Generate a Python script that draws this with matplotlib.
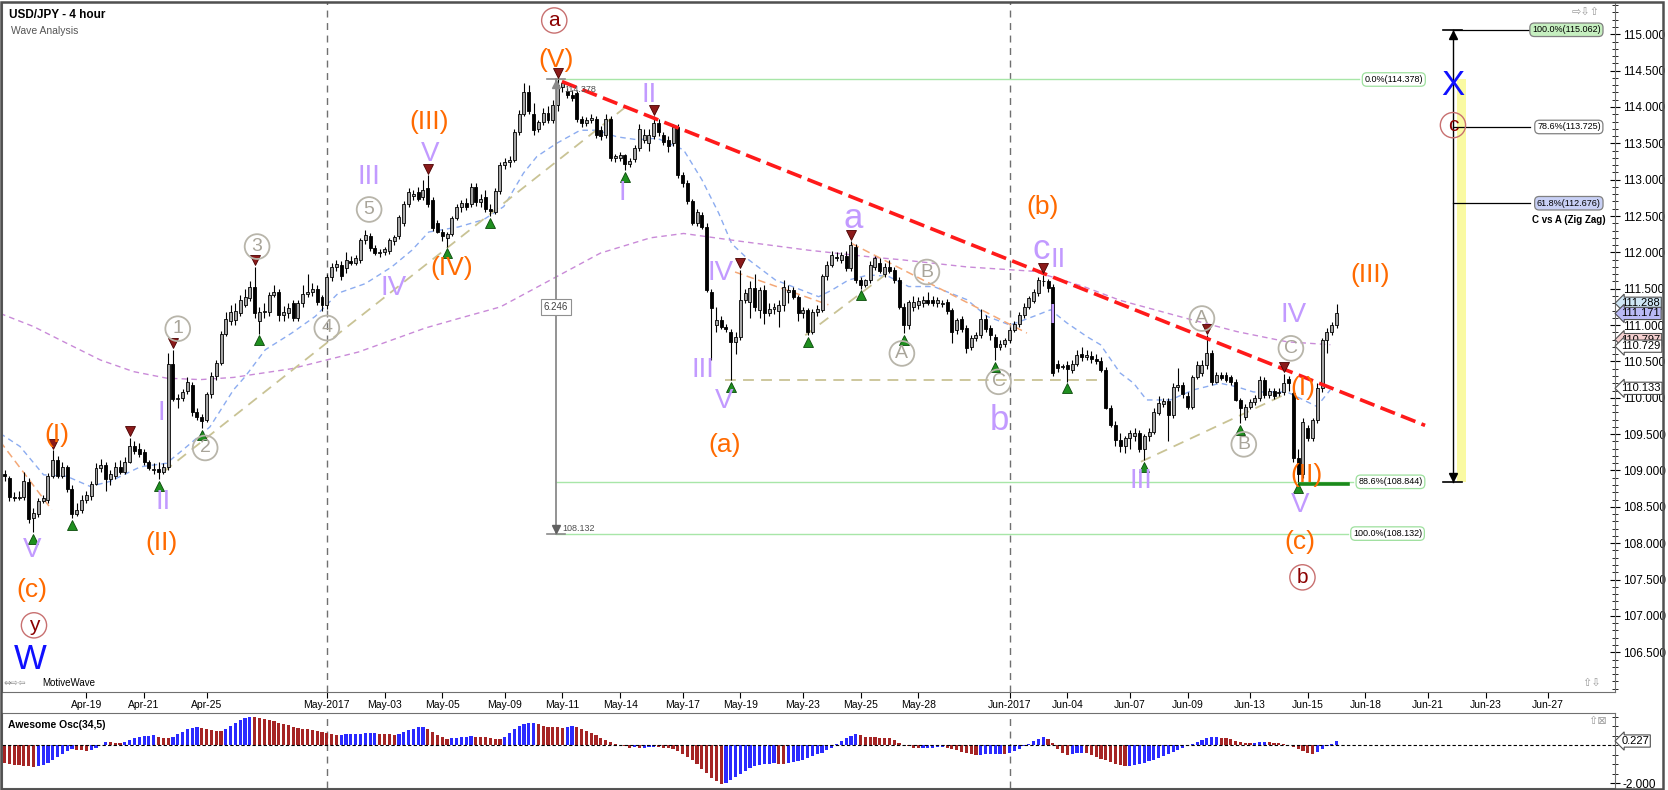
import numpy as np
import pandas as pd
import matplotlib
matplotlib.use('Agg')
import matplotlib.pyplot as plt
from matplotlib.ticker import MultipleLocator
from matplotlib.patches import Rectangle

plt.rcParams['font.family'] = ['Liberation Sans', 'DejaVu Sans']

# USD/JPY 4 hour candles, 14 Apr - 16 Jun 2017
opens = [108.95, 108.90, 108.64, 108.62, 108.63, 108.84, 108.34, 108.40, 108.58, 108.60,
         108.93, 109.14, 108.93, 109.05, 108.75, 108.40, 108.45, 108.60, 108.65, 108.82,
         109.03, 109.08, 108.88, 108.92, 109.05, 108.98, 109.12, 109.33, 109.30, 109.26,
         109.12, 109.00, 109.02, 108.98, 109.05, 110.47, 109.98, 110.00, 110.10, 110.18,
         109.80, 109.74, 109.70, 110.05, 110.30, 110.48, 110.88, 111.05,
         111.07, 111.16, 111.28, 111.37, 111.53, 111.05, 111.18, 111.18, 111.42, 111.45,
         111.14, 111.16, 111.30, 111.10, 111.30, 111.43, 111.46, 111.50, 111.38, 111.28,
         111.66, 111.80, 111.82, 111.78, 111.88, 111.86, 111.90, 112.17, 112.22, 112.06,
         111.99, 112.00, 112.02, 112.15, 112.22, 112.40, 112.67, 112.78, 112.83, 112.76,
         112.88, 112.72, 112.40, 112.28, 112.20, 112.25, 112.47,
         112.63, 112.68, 112.66, 112.90, 112.69, 112.76, 112.60, 112.56, 112.84, 113.20,
         113.24, 113.27, 113.66, 113.91, 114.21, 113.90, 113.70, 113.80, 113.92, 113.82,
         114.03, 114.28, 114.22, 114.16, 114.19, 113.84, 113.78, 113.82, 113.84, 113.68,
         113.62, 113.84, 113.30, 113.30, 113.34, 113.22, 113.28, 113.43, 113.55, 113.50,
         113.60, 113.78, 113.62, 113.55, 113.50, 113.72, 113.06, 112.96,
         112.70, 112.40, 112.52, 112.35, 111.46, 111.00, 111.07, 110.98, 110.91, 110.77,
         110.84, 111.35, 111.32, 111.51, 111.21, 111.48, 111.16, 111.22, 111.20, 111.28,
         111.45, 111.48, 111.38, 111.16, 111.21, 110.90, 111.18, 111.21, 111.67, 111.83,
         111.94, 111.90, 111.95, 111.78, 112.08, 111.62, 111.55, 111.62, 111.80, 111.85,
         111.70, 111.80, 111.76, 111.62, 111.25, 111.00,
         111.25, 111.28, 111.30, 111.35, 111.34, 111.30, 111.29, 111.32, 111.21, 110.93,
         111.09, 110.96, 110.70, 110.82, 110.86, 111.09, 110.96, 110.84, 110.70, 110.74,
         110.79, 110.93, 111.02, 111.14, 111.25, 111.33, 111.44, 111.60, 111.60, 111.53,
         110.47, 110.42, 110.45, 110.38, 110.47, 110.60, 110.56, 110.58, 110.53, 110.50,
         110.38, 109.86, 109.63, 109.42, 109.33, 109.44, 109.48,
         109.51, 109.30, 109.47, 109.53, 109.79, 109.92, 109.95, 109.76, 110.15, 110.18,
         110.02, 109.88, 110.29, 110.34, 110.45, 110.62, 110.22, 110.31, 110.31, 110.28,
         110.22, 109.97, 109.74, 109.88, 109.94, 110.00, 110.24, 110.04, 110.10, 110.06,
         110.08, 110.26, 110.06, 109.17, 108.95, 109.58, 109.44, 109.69, 110.13, 110.80,
         110.91, 111.00]
highs = [109.00, 108.93, 108.70, 108.72, 108.98, 108.90, 108.48, 108.62, 108.66, 108.97,
         109.28, 109.20, 109.12, 109.08, 108.80, 108.55, 108.66, 108.72, 108.85, 109.10,
         109.16, 109.12, 109.00, 109.12, 109.15, 109.18, 109.45, 109.40, 109.38, 109.30,
         109.15, 109.10, 109.12, 109.10, 110.62, 110.66, 110.05, 110.12, 110.28, 110.22,
         109.86, 109.78, 110.08, 110.36, 110.52, 110.92, 111.18, 111.28,
         111.30, 111.42, 111.50, 111.60, 111.80, 111.25, 111.30, 111.45, 111.55, 111.50,
         111.26, 111.30, 111.35, 111.35, 111.55, 111.70, 111.58, 111.55, 111.42, 111.70,
         111.85, 111.90, 111.88, 112.00, 111.95, 111.96, 112.20, 112.31, 112.26, 112.10,
         112.05, 112.08, 112.20, 112.24, 112.52, 112.70, 112.88, 112.86, 112.90, 113.00,
         113.06, 112.76, 112.44, 112.32, 112.28, 112.50, 112.66,
         112.72, 112.75, 112.95, 112.96, 112.80, 112.86, 112.66, 112.88, 113.24, 113.30,
         113.32, 113.70, 113.96, 114.33, 114.30, 114.05, 113.82, 113.98, 114.02, 114.10,
         114.378, 114.36, 114.26, 114.24, 114.22, 113.88, 113.86, 113.90, 113.88, 113.74,
         113.90, 113.88, 113.36, 113.38, 113.36, 113.30, 113.48, 113.76, 113.70, 113.70,
         113.87, 113.84, 113.66, 113.60, 113.76, 113.76, 113.10, 113.00,
         112.74, 112.60, 112.56, 112.40, 111.50, 111.25, 111.12, 111.02, 110.95, 110.90,
         111.76, 111.50, 111.60, 111.70, 111.52, 111.55, 111.30, 111.30, 111.35, 111.62,
         111.55, 111.52, 111.42, 111.25, 111.24, 111.22, 111.28, 111.70, 111.88, 112.02,
         112.00, 112.00, 112.02, 112.15, 112.12, 111.66, 111.64, 111.88, 111.95, 111.92,
         111.86, 111.90, 111.80, 111.66, 111.30, 111.35,
         111.40, 111.38, 111.40, 111.46, 111.40, 111.38, 111.34, 111.36, 111.24, 111.10,
         111.12, 111.00, 110.86, 110.90, 111.22, 111.14, 111.00, 110.88, 110.80, 110.82,
         110.98, 111.06, 111.18, 111.30, 111.40, 111.50, 111.66, 111.69, 111.64, 111.56,
         110.52, 110.46, 110.50, 110.52, 110.66, 110.70, 110.66, 110.64, 110.60, 110.56,
         110.42, 109.90, 109.68, 109.52, 109.48, 109.56, 109.58,
         109.56, 109.50, 109.58, 109.86, 110.02, 110.00, 110.00, 110.20, 110.41, 110.22,
         110.08, 110.32, 110.50, 110.52, 110.86, 110.66, 110.36, 110.36, 110.36, 110.32,
         110.26, 110.00, 109.92, 109.98, 110.04, 110.30, 110.28, 110.14, 110.14, 110.14,
         110.33, 110.30, 110.10, 109.30, 109.72, 109.62, 109.72, 110.20, 110.82, 110.96,
         111.04, 111.29]
lows = [108.85, 108.58, 108.58, 108.60, 108.60, 108.28, 108.15, 108.36, 108.55, 108.55,
        108.90, 108.90, 108.90, 108.70, 108.34, 108.38, 108.42, 108.55, 108.60, 108.80,
        108.98, 108.72, 108.80, 108.88, 108.95, 108.95, 109.10, 109.22, 109.18, 109.08,
        109.00, 108.95, 108.88, 108.95, 109.00, 109.95, 109.86, 109.95, 110.05, 109.75,
        109.70, 109.58, 109.66, 110.00, 110.25, 110.45, 110.85, 111.00,
        111.00, 111.12, 111.25, 111.33, 111.10, 110.88, 111.10, 111.12, 111.38, 111.05,
        111.06, 111.10, 111.05, 111.05, 111.25, 111.38, 111.40, 111.28, 111.20, 111.22,
        111.60, 111.74, 111.62, 111.72, 111.82, 111.82, 111.86, 112.12, 112.02, 111.96,
        111.94, 111.96, 111.98, 112.10, 112.18, 112.36, 112.62, 112.72, 112.70, 112.72,
        112.62, 112.30, 112.26, 112.15, 112.08, 112.22, 112.44,
        112.55, 112.58, 112.62, 112.64, 112.62, 112.55, 112.50, 112.53, 112.80, 113.15,
        113.18, 113.24, 113.62, 113.88, 113.90, 113.62, 113.66, 113.75, 113.78, 113.78,
        113.95, 114.20, 114.12, 114.08, 113.80, 113.72, 113.74, 113.78, 113.58, 113.55,
        113.58, 113.26, 113.25, 113.26, 113.13, 113.18, 113.24, 113.40, 113.50, 113.40,
        113.56, 113.60, 113.48, 113.38, 113.46, 113.02, 112.90, 112.66,
        112.38, 112.36, 112.32, 111.45, 110.52, 110.90, 110.95, 110.90, 110.24, 110.60,
        110.80, 111.30, 111.10, 111.20, 111.10, 111.02, 111.12, 111.15, 110.98, 111.20,
        111.30, 111.36, 111.05, 111.10, 110.86, 110.88, 111.12, 111.18, 111.62, 111.80,
        111.88, 111.86, 111.74, 111.74, 111.58, 111.50, 111.52, 111.58, 111.76, 111.72,
        111.66, 111.72, 111.58, 111.22, 110.89, 110.95,
        111.20, 111.22, 111.25, 111.28, 111.26, 111.25, 111.25, 111.15, 110.75, 110.88,
        110.90, 110.62, 110.66, 110.78, 110.82, 110.90, 110.80, 110.52, 110.66, 110.70,
        110.76, 110.90, 110.98, 111.10, 111.22, 111.30, 111.40, 111.54, 111.46, 110.30,
        110.36, 110.40, 110.22, 110.34, 110.44, 110.50, 110.52, 110.48, 110.46, 110.36,
        109.84, 109.60, 109.34, 109.26, 109.24, 109.30, 109.40,
        109.26, 109.14, 109.40, 109.50, 109.76, 109.88, 109.40, 109.72, 110.10, 110.00,
        109.84, 109.85, 110.26, 110.30, 110.40, 110.18, 110.20, 110.24, 110.22, 110.18,
        109.95, 109.65, 109.70, 109.84, 109.90, 109.96, 110.00, 110.00, 109.98, 110.02,
        110.04, 110.10, 109.12, 108.844, 108.90, 109.40, 109.40, 109.65, 110.08, 110.62,
        110.86, 110.96]
closes = [108.92, 108.63, 108.62, 108.64, 108.86, 108.33, 108.42, 108.58, 108.62, 108.93,
          109.14, 108.93, 109.05, 108.75, 108.40, 108.45, 108.60, 108.66, 108.82, 109.03,
          109.08, 108.88, 108.95, 109.05, 108.98, 109.12, 109.33, 109.27, 109.22, 109.12,
          109.04, 109.02, 108.98, 109.05, 110.47, 109.98, 110.00, 110.08, 110.22, 109.80,
          109.74, 109.68, 110.05, 110.30, 110.48, 110.88, 111.08, 111.18,
          111.20, 111.35, 111.39, 111.53, 111.16, 111.18, 111.19, 111.42, 111.45, 111.14,
          111.18, 111.24, 111.10, 111.30, 111.43, 111.46, 111.50, 111.32, 111.28, 111.66,
          111.80, 111.84, 111.67, 111.90, 111.86, 111.92, 112.17, 112.24, 112.06, 111.99,
          112.01, 112.04, 112.17, 112.21, 112.49, 112.67, 112.83, 112.80, 112.74, 112.86,
          112.67, 112.33, 112.28, 112.22, 112.25, 112.47, 112.63,
          112.68, 112.62, 112.90, 112.69, 112.74, 112.60, 112.57, 112.84, 113.20, 113.24,
          113.27, 113.66, 113.91, 114.21, 113.94, 113.68, 113.80, 113.92, 113.82, 114.03,
          114.30, 114.33, 114.16, 114.12, 113.84, 113.78, 113.82, 113.85, 113.62, 113.60,
          113.84, 113.30, 113.32, 113.34, 113.22, 113.26, 113.43, 113.70, 113.62, 113.62,
          113.78, 113.66, 113.52, 113.46, 113.72, 113.06, 112.96, 112.70,
          112.40, 112.56, 112.35, 111.48, 111.23, 111.07, 110.98, 110.95, 110.77, 110.84,
          111.35, 111.44, 111.51, 111.25, 111.48, 111.16, 111.22, 111.25, 111.28, 111.53,
          111.48, 111.38, 111.16, 111.21, 110.90, 111.18, 111.22, 111.67, 111.83, 111.97,
          111.92, 111.96, 111.78, 112.10, 111.62, 111.55, 111.62, 111.83, 111.92, 111.74,
          111.80, 111.74, 111.62, 111.25, 111.00, 111.32,
          111.32, 111.33, 111.34, 111.31, 111.30, 111.35, 111.30, 111.19, 110.91, 111.07,
          110.94, 110.68, 110.82, 110.86, 111.09, 110.94, 110.86, 110.70, 110.74, 110.79,
          110.93, 111.02, 111.14, 111.25, 111.37, 111.46, 111.62, 111.60, 111.51, 110.34,
          110.41, 110.44, 110.40, 110.47, 110.59, 110.56, 110.59, 110.53, 110.50, 110.38,
          109.86, 109.63, 109.42, 109.33, 109.44, 109.51, 109.51,
          109.30, 109.47, 109.53, 109.81, 109.93, 109.95, 109.76, 110.15, 110.18, 110.05,
          109.88, 110.29, 110.45, 110.45, 110.61, 110.22, 110.31, 110.27, 110.25, 110.22,
          109.97, 109.86, 109.88, 109.94, 110.00, 110.24, 110.04, 110.10, 110.02, 110.08,
          110.20, 110.20, 109.17, 108.95, 109.67, 109.44, 109.69, 110.13, 110.80, 110.91,
          111.00, 111.17]
last_bar = 278   # bar number of the last candle (bar 0 = 14 Apr 04:00)

# Awesome Osc(34,5), one value per candle
ao = [-0.95, -0.98, -1.02, -1.06, -1.09, -1.11, -1.13,
      -1.10, -1.04, -0.94, -0.80, -0.62, -0.46, -0.32, -0.22,
      -0.24, -0.26, -0.30, -0.25, -0.12, 0.02,
      0.16, 0.15, 0.14, 0.13,
      0.20, 0.28, 0.36, 0.42, 0.47, 0.50, 0.52,
      0.46, 0.40, 0.36,
      0.42, 0.58, 0.72, 0.84, 0.92, 0.96,
      0.90, 0.84, 0.80, 0.77, 0.75,
      0.86, 1.02, 1.20, 1.35, 1.45, 1.48,
      1.47, 1.44, 1.40, 1.33, 1.26, 1.19, 1.12, 1.05, 0.98, 0.93, 0.88, 0.84, 0.80, 0.76,
      0.70, 0.63, 0.58, 0.55,
      0.57, 0.59, 0.60, 0.61, 0.62, 0.63, 0.64, 0.65,
      0.62, 0.60, 0.58, 0.56,
      0.60, 0.70, 0.80, 0.88, 0.94, 0.98,
      0.88, 0.72, 0.55, 0.42, 0.35,
      0.36, 0.39, 0.42, 0.45, 0.47,
      0.46, 0.44, 0.42, 0.38, 0.34, 0.32,
      0.45, 0.65, 0.85, 1.00, 1.10, 1.17, 1.20,
      1.12, 1.04, 0.99, 0.96, 0.94, 0.93,
      0.97, 1.01,
      0.96, 0.87, 0.76, 0.64, 0.52, 0.41, 0.30, 0.19, 0.09, 0.01, -0.06, -0.12,
      -0.10, -0.14, -0.12, -0.10, -0.08, -0.10, -0.12, -0.15,
      -0.22, -0.32, -0.46, -0.62, -0.80, -1.00, -1.24, -1.46, -1.70, -1.90, -2.02,
      -1.98, -1.84, -1.68, -1.50, -1.34, -1.20, -1.10, -1.03, -0.99, -0.97, -0.95,
      -0.96, -0.98, -0.93, -0.88, -0.82, -0.76, -0.68, -0.58, -0.48, -0.38, -0.26,
      -0.12, 0.05, 0.22, 0.38, 0.50, 0.58,
      0.52, 0.46, 0.43, 0.42, 0.41, 0.40, 0.36, 0.26, 0.12,
      0.02, -0.06,
      -0.12, -0.16, -0.14, -0.13, -0.12, -0.11, -0.10, -0.14, -0.20, -0.26,
      -0.34, -0.42, -0.48, -0.52,
      -0.50, -0.48, -0.47, -0.46, -0.45, -0.47,
      -0.40, -0.30, -0.18, -0.05,
      0.08, 0.22, 0.34, 0.42,
      0.32,
      0.10, -0.18, -0.40, -0.52,
      -0.48, -0.42, -0.38, -0.42,
      -0.50, -0.60, -0.70, -0.80, -0.90, -0.99, -1.06, -1.10,
      -1.08, -1.04, -0.98, -0.92, -0.85, -0.77, -0.68, -0.58, -0.47, -0.36, -0.25, -0.14, -0.04, 0.06,
      0.18, 0.30, 0.38, 0.42, 0.43, 0.41, 0.38,
      0.32, 0.25, 0.18, 0.12,
      0.11, 0.13, 0.15, 0.16, 0.15, 0.14, 0.12, 0.08,
      0.00, -0.10, -0.20, -0.30, -0.40, -0.46,
      -0.36, -0.20, -0.04, 0.08, 0.23]

# moving averages as drawn on the chart (bar number, price)
fast_ma_bar = [0.06, 4.2, 9.1, 13.9, 18.8, 22.9, 29.2, 34.7, 38.9, 43.7, 48.6,
               51.0, 55.2, 60.7, 65.6, 70.4, 76.0, 81.5, 85.7, 89.2, 95.4,
               100.6, 104.8, 108.9, 111.7, 115.8, 120.7, 124.2, 128.3, 132.5, 136.7, 142.2,
               146.0, 149.5, 152.2, 155.7, 161.3, 166.8, 170.3, 173.0, 176.5, 180.7, 184.8, 189.0,
               194.2, 201.1, 205.3, 210.1, 215.0, 218.5, 221.9, 226.1, 228.9, 233.0, 235.8,
               238.5, 243.4, 248.3, 253.8, 257.3, 260.7, 267.7, 271.1, 273.9, 276.7]
fast_ma = [109.51, 109.33, 108.94, 108.92, 108.78, 108.85, 109.05, 109.10, 109.33, 109.60, 110.11,
           110.29, 110.66, 110.89, 111.12, 111.44, 111.57, 111.80, 112.03, 112.28, 112.35,
           112.45, 112.63, 113.09, 113.32, 113.50, 113.68, 113.68, 113.59, 113.55, 113.57, 113.41,
           113.00, 112.54, 112.12, 111.90, 111.62, 111.48, 111.39, 111.48, 111.62, 111.69, 111.67, 111.53,
           111.53, 111.35, 111.12, 111.00, 111.12, 111.21, 111.03, 110.84, 110.73, 110.34, 110.20,
           109.97, 109.97, 110.11, 110.20, 110.15, 110.08, 110.08, 109.97, 109.88, 110.11]
slow_ma_bar = [0.06, 7.0, 13.9, 20.9, 27.8, 34.7, 41.7, 48.6, 60.7, 74.6, 88.5, 95.4,
               104.1, 114.5, 124.9, 135.3, 142.2, 154.3, 168.2, 182.1, 187.3, 201.1,
               215.0, 225.4, 233.0, 246.9, 257.3, 267.7, 276.7]
slow_ma = [111.16, 110.98, 110.75, 110.52, 110.36, 110.27, 110.25, 110.28, 110.40, 110.63, 110.96, 111.09,
           111.25, 111.62, 111.99, 112.20, 112.26, 112.15, 112.03, 111.93, 111.90, 111.80,
           111.74, 111.53, 111.34, 111.09, 110.91, 110.77, 110.73]

tick_dates = ['2017-04-19', '2017-04-21', '2017-04-25', '2017-05-01', '2017-05-03', '2017-05-05',
              '2017-05-09', '2017-05-11', '2017-05-14', '2017-05-17', '2017-05-19', '2017-05-23',
              '2017-05-25', '2017-05-28', '2017-06-01', '2017-06-04', '2017-06-07', '2017-06-09',
              '2017-06-13', '2017-06-15', '2017-06-18', '2017-06-21', '2017-06-23', '2017-06-27']
tick_labels = ['Apr-19', 'Apr-21', 'Apr-25', 'May-2017', 'May-03', 'May-05', 'May-09', 'May-11',
               'May-14', 'May-17', 'May-19', 'May-23', 'May-25', 'May-28', 'Jun-2017', 'Jun-04',
               'Jun-07', 'Jun-09', 'Jun-13', 'Jun-15', 'Jun-18', 'Jun-21', 'Jun-23', 'Jun-27']
month_starts = ['2017-05-01', '2017-06-01']

# wave pivots marked with triangles (bar, 'H' or 'L')
pivots = [(12, 'H'), (28, 'H'), (37, 'H'), (53, 'H'), (89, 'H'), (116, 'H'), (135, 'H'),
          (153, 'H'), (177, 'H'), (217, 'H'), (250, 'H'), (268, 'H'),
          (7, 'L'), (16, 'L'), (34, 'L'), (42, 'L'), (54, 'L'), (93, 'L'), (102, 'L'),
          (129, 'L'), (151, 'L'), (167, 'L'), (179, 'L'), (188, 'L'), (207, 'L'),
          (222, 'L'), (237, 'L'), (259, 'L'), (270, 'L')]

# wave labels (text, bar, price, kind)
waves = [('W', 6.3, 106.40, 'blue'), ('y', 7.1, 106.87, 'ring'), ('(c)', 6.7, 107.36, 'orange'),
         ('V', 6.7, 107.91, 'purple'), ('(I)', 11.9, 109.49, 'orange'), ('I', 33.5, 109.79, 'purple'),
         ('II', 34.0, 108.57, 'purple'), ('(II)', 33.7, 108.0, 'orange'), ('1', 37.0, 110.95, 'grey'),
         ('2', 42.7, 109.31, 'grey'), ('3', 53.5, 112.08, 'grey'), ('4', 68.0, 110.96, 'grey'),
         ('5', 76.8, 112.59, 'grey'), ('III', 76.8, 113.04, 'purple'), ('IV', 81.9, 111.51, 'purple'),
         ('V', 89.5, 113.36, 'purple'), ('(III)', 89.3, 113.79, 'orange'), ('(IV)', 94.0, 111.78, 'orange'),
         ('(V)', 115.7, 114.65, 'orange'), ('a', 115.3, 115.19, 'ring'), ('II', 135.1, 114.17, 'purple'),
         ('I', 129.4, 112.81, 'purple'), ('IV', 149.8, 111.71, 'purple'), ('III', 146.3, 110.38, 'purple'),
         ('V', 150.7, 109.95, 'purple'), ('(a)', 150.7, 109.35, 'orange'), ('a', 177.5, 112.47, 'big'),
         ('A', 187.6, 110.61, 'grey'), ('B', 192.8, 111.73, 'grey'), ('C', 207.7, 110.22, 'grey'),
         ('b', 207.9, 109.69, 'big'), ('(b)', 216.9, 112.62, 'orange'), ('c', 216.6, 112.04, 'big'),
         ('II', 220.0, 111.90, 'purple'), ('I', 218.8, 111.12, 'purple'), ('A', 250.0, 111.09, 'grey'),
         ('B', 258.7, 109.36, 'grey'), ('III', 237.3, 108.85, 'purple'), ('IV', 269.0, 111.14, 'purple'),
         ('C', 268.5, 110.68, 'grey'), ('(I)', 271.0, 110.13, 'orange'), ('(II)', 271.8, 108.94, 'orange'),
         ('V', 270.4, 108.53, 'purple'), ('(c)', 270.4, 108.02, 'orange'), ('b', 270.9, 107.53, 'ring'),
         ('(III)', 285.0, 111.69, 'orange'), ('X', 302.2, 114.30, 'blue'), ('c', 302.2, 113.75, 'ring')]

# trend line and wave channel lines (bar0, bar1, price0, price1)
trend = (116.9, 296.4, 114.35, 109.62)
channels = [(34.0, 131.1, 108.98, 114.05), (150.8, 229.9, 110.24, 110.24),
            (167.5, 185.5, 110.86, 111.76), (237.3, 267.7, 109.12, 110.06)]
guides = [(0.06, 10.8, 109.40, 108.46), (152.9, 172.3, 111.73, 111.28),
          (177.2, 213.6, 112.12, 110.89)]

# fibonacci tools
fib_low, fib_high = 108.132, 114.378
retr_886 = 108.844
ext_levels = [115.062, 113.725, 112.676]
ext_labels = ['100.0%(115.062)', '78.6%(113.725)', '61.8%(112.676)']
ext_colors = ['#c6efc0', 'white', '#c8d0f5']
tags = [('111.288', 111.30, '#cfe6f5'), ('111.171', 111.16, '#b9b9f5'),
        ('110.797', 110.80, '#f5d0d0'), ('110.729', 110.71, 'white'), ('110.133', 110.13, 'white')]

# ---------------------------------------------------------------
# 4h bar calendar: no Saturday bars, one Sunday evening bar
times = pd.date_range('2017-04-14 04:00', '2017-07-01', freq='4h')
times = times[~((times.dayofweek == 5) | ((times.dayofweek == 6) & (times.hour < 20)))]
tick_pos = np.searchsorted(times, pd.to_datetime(tick_dates))
month_pos = np.searchsorted(times, pd.to_datetime(month_starts))

o, h, l, c = (np.array(v) for v in (opens, highs, lows, closes))
n = len(c)
x = np.arange(n) + last_bar - n + 1

W, H = 1668, 790
fig = plt.figure(figsize=(W / 100, H / 100), dpi=100)
ax = fig.add_axes([2 / W, 1 - 692 / H, 1613 / W, 690 / H])
ax2 = fig.add_axes([2 / W, 1 - 788 / H, 1613 / W, 75.3 / H])

# candles
up = c >= o
ax.vlines(x, l, h, color='black', lw=0.8, zorder=3)
ax.bar(x[up], (c - o)[up], bottom=o[up], width=0.62, color='#a4a4a4', edgecolor='black', lw=0.6, zorder=4)
ax.bar(x[~up], (c - o)[~up], bottom=o[~up], width=0.62, color='black', edgecolor='black', lw=0.6, zorder=4)

ax.plot(fast_ma_bar, fast_ma, color='#8cacf0', lw=1.0, ls=(0, (4, 3)), zorder=2)
ax.plot(slow_ma_bar, slow_ma, color='#c98ad8', lw=1.0, ls=(0, (4, 3)), zorder=2)

for b0, b1, p0, p1 in channels:
    ax.plot([b0, b1], [p0, p1], color='#c9c395', lw=1.3, ls=(0, (6, 4)), zorder=2)
for b0, b1, p0, p1 in guides:
    ax.plot([b0, b1], [p0, p1], color='#f4a877', lw=1.1, ls=(0, (5, 3)), zorder=2)
ax.plot(trend[:2], trend[2:], color='#ff1a1a', lw=2.6, ls=(0, (4.3, 1.8)), zorder=6)

for m in month_pos:
    ax.axvline(m, color='#707070', lw=1.0, ls=(0, (5, 4)), zorder=1)
    ax2.axvline(m, color='#707070', lw=1.0, ls=(0, (5, 4)), zorder=1)

# fib retracement of the (V) top to the (a) low
peak_bar = 115.7
lbl_font = 6.5
green_box = dict(boxstyle='round,pad=0.25,rounding_size=0.5', fc='white', ec='#9ee09e', lw=0.9)
for lev, end, txt, bx in [(fib_high, 282.7, '0.0%(114.378)', 289.9),
                          (retr_886, 281.5, '88.6%(108.844)', 289.2),
                          (fib_low, 280.4, '100.0%(108.132)', 288.6)]:
    ax.plot([peak_bar, end], [lev, lev], color='#a8e6a8', lw=1.0, zorder=2)
    ax.text(bx, lev, txt, fontsize=lbl_font, ha='center', va='center', bbox=green_box, zorder=7)
ax.plot([270.4, 280.4], [108.82, 108.82], color='#1a8a1a', lw=2.6, zorder=6)
ax.plot([peak_bar, peak_bar], [fib_high, fib_low], color='#8a8a8a', lw=1.3, zorder=5)
ax.plot([113.8, 117.6], [fib_high, fib_high], color='#8a8a8a', lw=1.2, zorder=5)
ax.plot([113.8, 117.6], [fib_low, fib_low], color='#8a8a8a', lw=1.2, zorder=5)
ax.plot(peak_bar, fib_high - 0.06, marker='^', color='#8a8a8a', ms=6, zorder=5)
ax.plot(peak_bar, fib_low + 0.06, marker='v', color='#606060', ms=6, zorder=5)
ax.text(117.4, 114.24, '114.378', fontsize=6.5, color='#505050', ha='left', va='center', zorder=7)
ax.text(117.0, 108.20, '108.132', fontsize=6.5, color='#505050', ha='left', va='center', zorder=7)
ax.text(peak_bar, 111.25, '6.246', fontsize=7, color='#404040', ha='center', va='center', zorder=7,
        bbox=dict(boxstyle='square,pad=0.3', fc='white', ec='#909090', lw=0.8))

# C vs A projection on the right
proj_bar = 302.2
ax.fill_between([303.0, 304.9], retr_886, fib_high, color='#fafaa2', lw=0, zorder=1)
ax.plot([proj_bar, proj_bar], [ext_levels[0], retr_886], color='black', lw=1.0, zorder=5)
ax.plot([300.2, 304.1], [ext_levels[0], ext_levels[0]], color='black', lw=1.2, zorder=5)
ax.plot([300.2, 304.1], [retr_886, retr_886], color='black', lw=1.2, zorder=5)
ax.plot(proj_bar, ext_levels[0] - 0.07, marker='^', color='black', ms=6, zorder=5)
ax.plot(proj_bar, retr_886 + 0.07, marker='v', color='black', ms=6, zorder=5)
for lev, txt, fc, bx in zip(ext_levels, ext_labels, ext_colors, [325.8, 326.3, 326.3]):
    ax.plot([proj_bar, 318.2], [lev, lev], color='black', lw=0.9, zorder=5)
    ax.text(bx, lev, txt, fontsize=lbl_font, ha='center', va='center', zorder=7,
            bbox=dict(boxstyle='round,pad=0.25,rounding_size=0.5', fc=fc, ec='#808080', lw=0.9))
ax.text(333.9, 112.45, 'C vs A (Zig Zag)', fontsize=7, fontweight='bold', ha='right', va='center')

# pivot triangles
for b, kind in pivots:
    win = np.where(np.abs(x - b) <= 2)[0]
    if kind == 'H':
        i = win[np.argmax(h[win])]
        ax.plot(x[i], h[i] + 0.09, marker='v', ms=7.5, color='#8b1a1a', mec='#4a0000', mew=0.6, zorder=6)
    else:
        i = win[np.argmin(l[win])]
        ax.plot(x[i], l[i] - 0.09, marker='^', ms=7.5, color='#1f8f1f', mec='#0a4a0a', mew=0.6, zorder=6)

styles = {
    'orange': dict(color='#ff6a00', fontsize=19),
    'purple': dict(color='#c29aff', fontsize=20),
    'big': dict(color='#c29aff', fontsize=25),
    'grey': dict(color='#a9a59a', fontsize=14,
                 bbox=dict(boxstyle='circle,pad=0.2', fc='none', ec='#b8b5aa', lw=1.3)),
    'ring': dict(color='#8b0000', fontsize=15,
                 bbox=dict(boxstyle='circle,pad=0.15', fc='none', ec='#c87070', lw=1.0)),
    'blue': dict(color='#1010ff', fontsize=25),
}
for txt, b, p, kind in waves:
    ax.text(b, p, txt, ha='center', va='center', zorder=8, **styles[kind])

# axes cosmetics
ax.set_xlim(0.45, 335.9)
ax.set_ylim(105.953, 115.444)
ax.yaxis.tick_right()
price_ticks = np.arange(106.5, 115.01, 0.5)
ax.set_yticks(price_ticks)
ax.set_yticklabels([f'{v:.3f}' for v in price_ticks])
ax.yaxis.set_minor_locator(MultipleLocator(0.1))
ax.tick_params(axis='y', which='major', direction='inout', length=7, width=0.8, labelsize=8.5, pad=2)
ax.tick_params(axis='y', which='minor', direction='inout', length=4, width=0.6)
ax.set_xticks(tick_pos)
ax.set_xticklabels(tick_labels)
ax.tick_params(axis='x', direction='out', length=4, width=0.8, labelsize=7.5, pad=1.5)
for s in ax.spines.values():
    s.set_color('#707070')

for txt, p, fc in tags:
    ax.text(1.004, p, txt, transform=ax.get_yaxis_transform(), ha='left', va='center', fontsize=8,
            zorder=9, clip_on=False,
            bbox=dict(boxstyle='larrow,pad=0.1', fc=fc, ec='#505050', lw=0.8))

# awesome oscillator
av = np.array(ao)
xa = np.arange(len(av)) + last_bar - len(av) + 1
rising = np.r_[False, np.diff(av) > 0]
ax2.bar(xa, av, width=0.66, color=np.where(rising, '#2a2aff', '#a52525'), lw=0, zorder=3)
ax2.axhline(0, color='black', lw=0.8, ls=(0, (3, 2)), zorder=4)
ax2.set_xlim(0.45, 335.9)
ax2.set_ylim(-2.25, 1.72)
ax2.set_xticks([])
ax2.yaxis.tick_right()
ax2.set_yticks([-2.0])
ax2.set_yticklabels(['-2.000'])
ax2.yaxis.set_minor_locator(MultipleLocator(0.5))
ax2.tick_params(axis='y', which='major', direction='inout', length=7, labelsize=8.5, pad=2)
ax2.tick_params(axis='y', which='minor', direction='inout', length=4)
for s in ax2.spines.values():
    s.set_color('#707070')
ax2.text(1.004, 0.227, '0.227', transform=ax2.get_yaxis_transform(), ha='left', va='center',
         fontsize=8, clip_on=False, zorder=9,
         bbox=dict(boxstyle='larrow,pad=0.1', fc='white', ec='#505050', lw=0.8))
ax2.text(0.004, 0.84, 'Awesome Osc(34,5)', transform=ax2.transAxes, fontsize=7.5,
         fontweight='bold', va='center')

# titles and frame furniture
fig.text(9 / W, 1 - 15 / H, 'USD/JPY - 4 hour', fontsize=8.5, fontweight='bold', va='center')
fig.text(11 / W, 1 - 31 / H, 'Wave Analysis', fontsize=7.5, color='#555555', va='center')
fig.text(4 / W, 1 - 683 / H, '⇔⇨⇦', fontsize=6.5, color='#8a8a8a', va='center', family='DejaVu Sans')
fig.text(42 / W, 1 - 683 / H, 'MotiveWave', fontsize=7, va='center')
fig.text(1572 / W, 1 - 12 / H, '⇨⇩⇧', fontsize=8, color='#9a9a9a', va='center', family='DejaVu Sans')
fig.text(1582 / W, 1 - 683 / H, '⇧⇩', fontsize=8, color='#9a9a9a', va='center', family='DejaVu Sans')
fig.text(1588 / W, 1 - 721 / H, '⇧⊠', fontsize=8, color='#9a9a9a', va='center', family='DejaVu Sans')
fig.patches.append(Rectangle((0.0005, 0.001), 1662 / W, 0.997, transform=fig.transFigure,
                             fill=False, ec='#505050', lw=1.8))

fig.savefig('out.png', dpi=100)
